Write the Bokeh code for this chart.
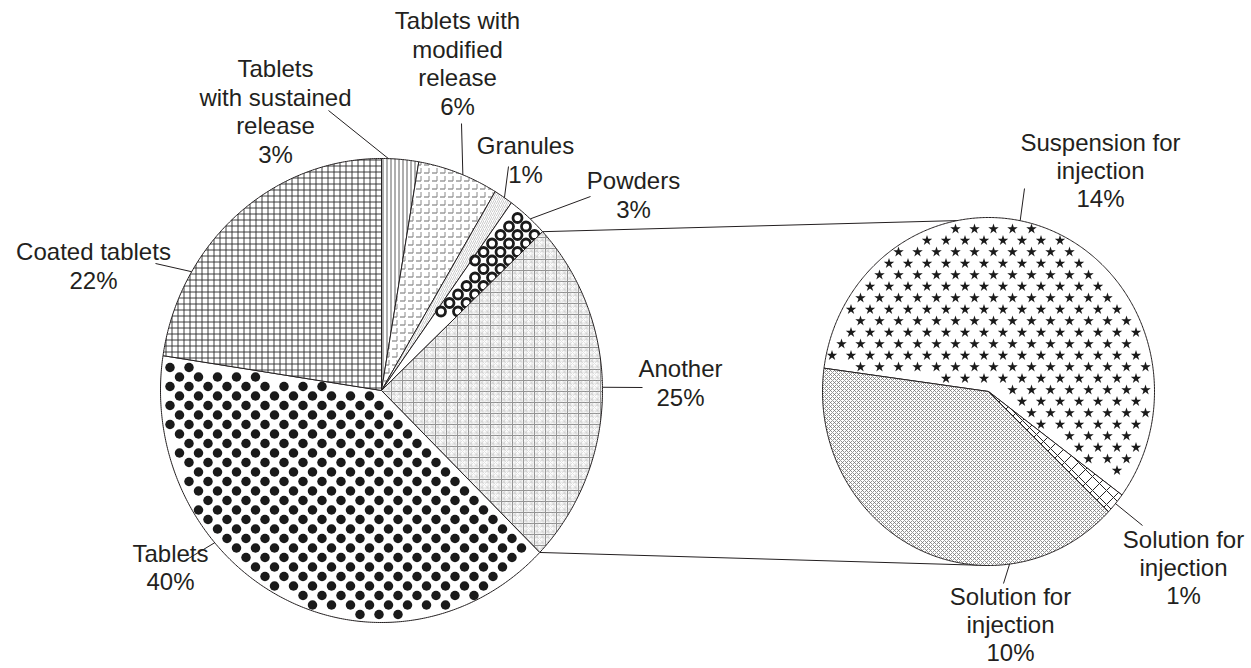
import numpy as np
from bokeh.plotting import figure
from bokeh.models import Range1d
from bokeh.core.properties import value
from bokeh.embed import file_html
from bokeh.resources import INLINE

# ---------------- data ----------------
main_names = ["Tablets with sustained release", "Tablets with modified release", "Granules",
              "Powders", "Another", "Tablets", "Coated tablets"]
main_values = [2.7, 5.9, 1.4, 3.0, 24.3, 40.1, 22.6]
main_pct = ["3%", "6%", "1%", "3%", "25%", "40%", "22%"]
main_label_lines = ["Tablets\nwith sustained\nrelease", "Tablets with\nmodified\nrelease", "Granules",
                    "Powders", "Another", "Tablets", "Coated tablets"]

sub_names = ["Suspension for injection", "Solution for injection", "Solution for injection"]
sub_values = [14.5, 0.5, 10.0]
sub_pct = ["14%", "1%", "10%"]
sub_label_lines = ["Suspension for\ninjection", "Solution for\ninjection", "Solution for\ninjection"]

# ---------------- layout ----------------
W, H = 1251, 668


def Y(y):  # reference pixel row -> data y
    return H - y


MAIN = dict(cx=381.0, cy=390.0, rx=221.0, ry=232.0, start=90.0)
SUB = dict(cx=988.0, cy=391.0, rx=166.0, ry=174.0, start=172.3)

main_label_pos = [(275, 111), (457, 63), (525, 159.5), (633, 194.5), (680, 382.5), (170, 567), (93, 265.5)]
main_leader_from = [(328, 110), (461, 123), (508, 166), (590, 196), (642, 387), (183, 561), (155, 263)]
main_leader_ang = [88.2, 68.4, 56.2, 47.7, 0.8, -139.0, 149.2]

sub_label_pos = [(1100, 170), (1183, 567), (1010, 624)]
sub_leader_from = [(1024, 188), (1142, 525), (1003, 583)]
sub_leader_ang = [79.0, -40.1, -82.7]

# hatch layers per slice
main_styles = [
    [dict(hatch_pattern="|", hatch_scale=4, hatch_weight=0.8, hatch_color="#333333")],
    [dict(hatch_pattern='"', hatch_scale=8, hatch_weight=1.0, hatch_color="#6a6a6a"),
     dict(hatch_pattern=":", hatch_scale=8, hatch_weight=1.0, hatch_color="#8a8a8a")],
    [dict(hatch_pattern="/", hatch_scale=4, hatch_weight=0.6, hatch_color="#aaaaaa")],
    [],
    [dict(hatch_pattern="+", hatch_scale=11, hatch_weight=1.0, hatch_color="#8a8a8a"),
     dict(hatch_pattern="*", hatch_scale=5.5, hatch_weight=0.5, hatch_color="#bbbbbb")],
    [],
    [dict(hatch_pattern="+", hatch_scale=6, hatch_weight=0.9, hatch_color="#2a2a2a")],
]
sub_styles = [
    [],
    [dict(hatch_pattern="x", hatch_scale=14, hatch_weight=1.0, hatch_color="#222222")],
    [dict(hatch_pattern="x", hatch_scale=4, hatch_weight=0.8, hatch_color="#777777")],
]
# marker textures: slice index -> (marker, dx, dy, size, filled, line_width, margin)
main_tex = {3: ("circle", 17.0, 8.5, 9.0, False, 2.8, 2.5),
            5: ("circle", 19.0, 9.5, 9.5, True, 0, 5.0)}
sub_tex = {0: ("star", 19.0, 11.5, 11.0, True, 0, 5.0)}

FONT = value("Liberation Sans")
TXT = "#231f20"
INK = "#1a1a1a"

p = figure(width=W, height=H, output_backend="svg", toolbar_location=None,
           x_range=Range1d(0, W), y_range=Range1d(0, H),
           min_border=0, outline_line_color=None)
p.axis.visible = False
p.grid.visible = False
p.background_fill_color = "white"


def rim(pie, ang):
    a = np.deg2rad(ang)
    return pie["cx"] + pie["rx"] * np.cos(a), Y(pie["cy"] - pie["ry"] * np.sin(a))


def boundaries(pie, vals):
    tot = float(sum(vals))
    cum = np.concatenate([[0.0], np.cumsum(vals)])
    return pie["start"] - 360.0 * cum / tot  # clockwise


def ray_dist(pie, b, px, py):
    br = np.deg2rad(b)
    d = np.array([pie["rx"] * np.cos(br), -pie["ry"] * np.sin(br)])
    d = d / np.hypot(*d)
    wx, wy = px - pie["cx"], py - pie["cy"]
    proj = wx * d[0] + wy * d[1]
    perp = np.abs(d[0] * wy - d[1] * wx)
    return np.where(proj > 0, perp, np.hypot(wx, wy))


def lattice(pie, a0, a1, dx, dy, margin):
    pts_x, pts_y = [], []
    ys = np.arange(pie["cy"] - pie["ry"] - dy, pie["cy"] + pie["ry"] + dy, dy)
    for j, yy in enumerate(ys):
        off = (j % 2) * dx / 2
        xs = np.arange(pie["cx"] - pie["rx"] - dx + off, pie["cx"] + pie["rx"] + dx, dx)
        u = (xs - pie["cx"]) / pie["rx"]
        v = (pie["cy"] - yy) / pie["ry"]
        rr = np.hypot(u, v)
        th = np.degrees(np.arctan2(v, u))
        t = np.mod(a0 - th, 360.0)
        ok = (rr <= 1 - margin / pie["ry"]) & (t <= (a0 - a1))
        ok &= ray_dist(pie, a0, xs, yy) >= margin
        ok &= ray_dist(pie, a1, xs, yy) >= margin
        pts_x.extend(xs[ok])
        pts_y.extend([Y(yy)] * int(ok.sum()))
    return pts_x, pts_y


def draw_pie(pie, vals, styles, tex):
    b = boundaries(pie, vals)
    for i in range(len(vals)):
        a = np.linspace(b[i], b[i + 1], max(8, int(abs(b[i] - b[i + 1]) * 2)))
        xs, ys = rim(pie, a)
        xs = np.concatenate([[pie["cx"]], xs, [pie["cx"]]])
        ys = np.concatenate([[Y(pie["cy"])], ys, [Y(pie["cy"])]])
        p.patch(xs, ys, fill_color="white", line_color=None)
        for st in styles[i]:
            p.patch(xs, ys, fill_alpha=0, line_color=None, **st)
        if i in tex:
            mk, dx, dy, size, filled, lw, margin = tex[i]
            tx, ty = lattice(pie, b[i], b[i + 1], dx, dy, margin)
            if filled:
                p.scatter(tx, ty, marker=mk, size=size, fill_color=INK, line_color=None)
            else:
                p.scatter(tx, ty, marker=mk, size=size, fill_color=None, line_color=INK,
                          line_width=lw)
        p.patch(xs, ys, fill_alpha=0, line_color="#231f20", line_width=1)
    return b


# connector lines between the pies
bm = boundaries(MAIN, main_values)
ia = main_names.index("Another")
x1, y1 = rim(MAIN, bm[ia])
x2, y2 = rim(SUB, 100.8)
x3, y3 = rim(MAIN, bm[ia + 1])
x4, y4 = rim(SUB, 270.0)
p.segment(x0=[x1, x3], y0=[y1, y3], x1=[x2, x4], y1=[y2, y4], line_color="#231f20", line_width=1)

draw_pie(MAIN, main_values, main_styles, main_tex)
draw_pie(SUB, sub_values, sub_styles, sub_tex)


def leaders(pie, froms, angs):
    xe, ye = rim(pie, np.array(angs))
    p.segment(x0=[f[0] for f in froms], y0=[Y(f[1]) for f in froms], x1=list(xe), y1=list(ye),
              line_color="#231f20", line_width=1)


leaders(MAIN, main_leader_from, main_leader_ang)
leaders(SUB, sub_leader_from, sub_leader_ang)

texts = [f"{l}\n{pc}" for l, pc in zip(main_label_lines, main_pct)] + \
        [f"{l}\n{pc}" for l, pc in zip(sub_label_lines, sub_pct)]
pos = main_label_pos + sub_label_pos
p.text(x=[q[0] for q in pos], y=[Y(q[1]) for q in pos], text=texts,
       text_font=FONT, text_font_size="24px", text_color=TXT,
       text_align="center", text_baseline="middle", text_line_height=1.05)

open("out.html", "w").write(file_html(p, INLINE))
